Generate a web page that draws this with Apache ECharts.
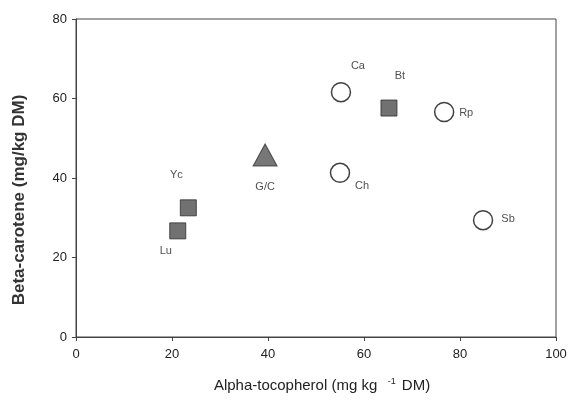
<!DOCTYPE html>
<html>
<head>
<meta charset="utf-8">
<script src="https://cdn.jsdelivr.net/npm/echarts@6/dist/echarts.min.js"></script>
<style>
html, body { margin: 0; padding: 0; background: #fff; }
#container { width: 571px; height: 401px; }
</style>
</head>
<body>
<div id="container"></div>
<script>
var dom = document.getElementById("container");
var myChart = echarts.init(dom);

// data
var names  = ['Lu', 'Yc', 'G/C', 'Ca', 'Ch', 'Bt', 'Rp', 'Sb'];
var alphaT = [21.2, 23.4, 39.4, 55.2, 55.0, 65.2, 76.7, 84.8];
var betaC  = [26.7, 32.5, 45.8, 61.6, 41.3, 57.6, 56.6, 29.4];
var groups = ['square', 'square', 'triangle', 'circle', 'circle', 'square', 'circle', 'circle'];
var xTicks = [0, 20, 40, 60, 80, 100];
var yTicks = [0, 20, 40, 60, 80];

// where each point's label sits relative to its marker
var labelOffset = {
    'Lu': [-12, 20], 'Yc': [-12, -33], 'G/C': [0, 32], 'Ca': [17, -26],
    'Ch': [22, 13], 'Bt': [11, -32], 'Rp': [22, 1], 'Sb': [25, -1]
};

function pointsFor(group) {
    var out = [];
    for (var i = 0; i < names.length; i++) {
        if (groups[i] !== group) continue;
        out.push({
            name: names[i],
            value: [alphaT[i], betaC[i]],
            label: { offset: labelOffset[names[i]] }
        });
    }
    return out;
}

var font = 'Liberation Sans, Arial, sans-serif';
var pointLabel = {
    show: true,
    position: 'inside',
    formatter: '{b}',
    fontFamily: font,
    fontSize: 11,
    color: '#222'
};

var option = {
    animation: false,
    backgroundColor: '#fff',
    grid: { left: 76, right: 15, top: 19, bottom: 64, show: true, borderColor: '#444', borderWidth: 1 },
    xAxis: {
        type: 'value',
        min: xTicks[0], max: xTicks[xTicks.length - 1], interval: 20,
        name: '{t|Alpha-tocopherol (mg kg  }{s|-1}{t| DM)}',
        nameLocation: 'middle', nameGap: 40,
        nameTextStyle: {
            padding: [0, 0, 0, 12],
            rich: {
                t: { fontFamily: font, fontSize: 15, color: '#222' },
                s: { fontFamily: font, fontSize: 9, color: '#222', verticalAlign: 'top', padding: [0, 2, 8, 2] }
            }
        },
        axisLine: { lineStyle: { color: '#444' } },
        axisTick: { show: true, length: 4, lineStyle: { color: '#444' } },
        axisLabel: { fontFamily: font, fontSize: 13, color: '#222', margin: 11 },
        splitLine: { show: false }
    },
    yAxis: {
        type: 'value',
        min: yTicks[0], max: yTicks[yTicks.length - 1], interval: 20,
        name: 'Beta-carotene (mg/kg DM)',
        nameLocation: 'middle', nameGap: 48,
        nameTextStyle: { fontFamily: font, fontSize: 17, fontWeight: 'bold', color: '#333', padding: [0, 44, 0, 0] },
        axisLine: { lineStyle: { color: '#444' } },
        axisTick: { show: true, length: 4, lineStyle: { color: '#444' } },
        axisLabel: { fontFamily: font, fontSize: 13, color: '#222', margin: 9 },
        splitLine: { show: false }
    },
    series: [
        {
            type: 'scatter',
            symbol: 'rect', symbolSize: 16,
            itemStyle: { color: '#4d4d4d', borderColor: '#2e2e2e', borderWidth: 1 },
            label: pointLabel,
            data: pointsFor('square')
        },
        {
            type: 'scatter',
            symbol: 'triangle', symbolSize: [24, 22],
            itemStyle: { color: '#555', borderColor: '#333', borderWidth: 1 },
            label: pointLabel,
            data: pointsFor('triangle')
        },
        {
            type: 'scatter',
            symbol: 'circle', symbolSize: 19,
            itemStyle: { color: '#fff', borderColor: '#111', borderWidth: 1.5 },
            label: pointLabel,
            data: pointsFor('circle')
        }
    ]
};
if (option && typeof option === "object") {
    myChart.setOption(option, true);
}
</script>
</body>
</html>
